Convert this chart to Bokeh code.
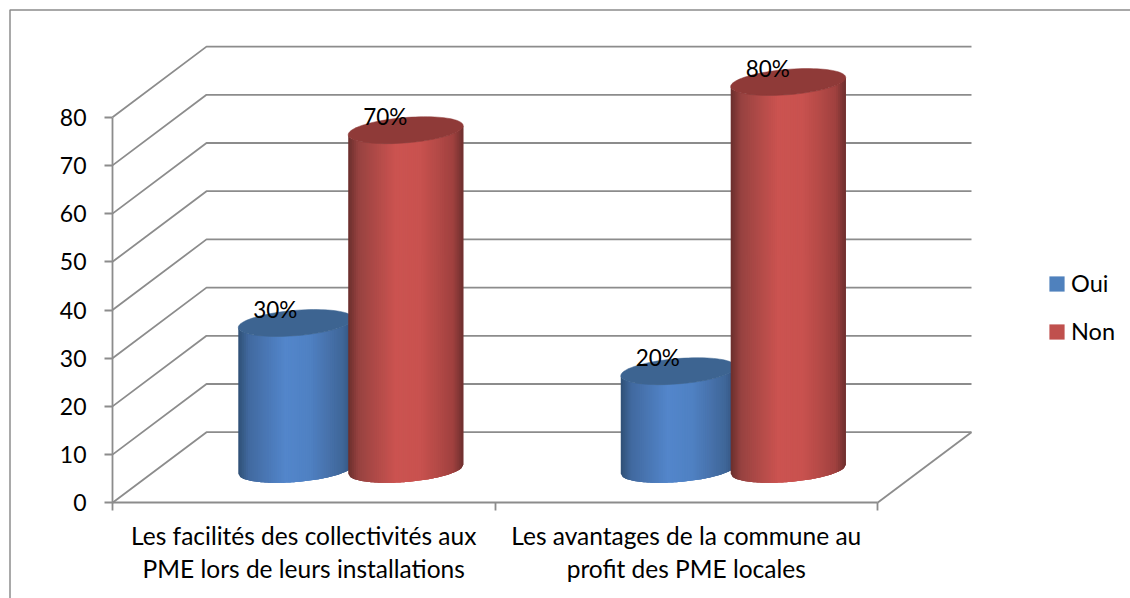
from bokeh.plotting import figure
from bokeh.embed import file_html
from bokeh.resources import INLINE
from bokeh.models import Range1d, LinearAxis, FixedTicker, Legend, LegendItem
from bokeh.core.properties import value
import math

categories = ["Les facilités des collectivités aux\nPME lors de leurs installations",
              "Les avantages de la commune au\nprofit des PME locales"]
series_names = ["Oui", "Non"]
oui = [30, 20]
non = [70, 80]
y_ticks = [0, 10, 20, 30, 40, 50, 60, 70, 80]

W, H = 1130, 598
FONT = "Lato"
GRAY = "#8c8c8c"
PX_X = 382.5      # px per category
PX_Y = 4.82       # px per unit
X0_PX, Y0_PX = 112, 502.3
x_range = Range1d(-X0_PX / PX_X, (W - X0_PX) / PX_X)
y_range = Range1d((Y0_PX - H) / PX_Y, Y0_PX / PX_Y)

p = figure(width=W, height=H, output_backend="svg", toolbar_location=None,
           x_range=x_range, y_range=y_range, x_axis_location=None, y_axis_location=None,
           min_border=0, min_border_left=0, min_border_right=0, min_border_top=0, min_border_bottom=0,
           background_fill_color="white", border_fill_color="white", outline_line_color=None)
p.grid.visible = False

# outer chart border (top and left sides only are visible)
bx = x_range.start + 9.5 / PX_X
by = y_range.end - 9.5 / PX_Y
p.line([bx, bx, x_range.end], [y_range.start, by, by], line_color=GRAY, line_width=1.5)

# 3-D depth of the walls
DX = 94 / PX_X
DV = 70.6 / PX_Y
n_cat = len(categories)
xs, ys = [], []
for t in y_ticks:
    xs.append([0, DX, n_cat + DX])
    ys.append([t, t + DV, t + DV])
xs.append([n_cat, n_cat + DX])
ys.append([0, DV])
p.multi_line(xs, ys, line_color=GRAY, line_width=1.8)

# cylinders
A = 57.5 / PX_X
B = 12.7 / PX_Y
K = 4.5 / PX_Y
OFF = 0.1437
BASE = 6.95
RISE = 0.35
STOPS = [0, .09, .41, .62, .77, .91, 1]
RED = ["#6a2e2c", "#974240", "#cb5350", "#c9524f", "#b54a47", "#a0413f", "#6d2f2e"]
BLUE = ["#2f5075", "#41699f", "#5386cb", "#4f81c3", "#4873ad", "#3f6698", "#30507a"]
RED_CAP, BLUE_CAP = "#8f3a38", "#3d6491"


def mix(cols, u):
    for i in range(len(STOPS) - 1):
        if u <= STOPS[i + 1]:
            f = (u - STOPS[i]) / (STOPS[i + 1] - STOPS[i])
            a, c = cols[i], cols[i + 1]
            rgb = [round(int(a[j:j + 2], 16) * (1 - f) + int(c[j:j + 2], 16) * f) for j in (1, 3, 5)]
            return "#%02x%02x%02x" % tuple(rgb)
    return cols[-1]


def cylinder(cx, val, cols, cap):
    top = val + BASE + RISE
    n = 60
    us = [-1 + 2 * i / n for i in range(n + 1)]
    low = [K * u - B * math.sqrt(max(0, 1 - u * u)) for u in us]
    sx, sy, sc = [], [], []
    for i in range(n):
        # every strip reaches over the next one, so that no seam shows
        j = min(i + 3, n)
        idx = list(range(i, j + 1))
        sx.append([cx + A * us[q] for q in idx] + [cx + A * us[q] for q in reversed(idx)])
        sy.append([BASE + low[q] for q in idx] + [top + low[q] for q in reversed(idx)])
        sc.append(mix(cols, (i + 0.5) / n))
    p.patches(sx, sy, fill_color=sc, line_color=None)
    ts = [2 * math.pi * i / 90 for i in range(90)]
    ex = [cx + A * math.cos(t) for t in ts]
    ey = [top + K * math.cos(t) + B * math.sin(t) for t in ts]
    p.patch(ex, ey, fill_color=cap, line_color=cap, line_width=0.5)


lab_x, lab_y, lab_t = [], [], []
for i in range(n_cat):
    c = i + 0.5 + DX / 2
    cylinder(c - OFF, oui[i], BLUE, BLUE_CAP)
    cylinder(c + OFF, non[i], RED, RED_CAP)
    for cx, v in ((c - OFF, oui[i]), (c + OFF, non[i])):
        lab_x.append(cx - 20.5 / PX_X)
        lab_y.append(v + BASE + 3.1)
        lab_t.append(f"{v}%")

p.text(lab_x, lab_y, text=lab_t, text_font=value(FONT), text_font_size="22.5px",
       text_color="black", text_align="center", text_baseline="middle")

# axes
yax = LinearAxis(fixed_location=0, ticker=FixedTicker(ticks=y_ticks), bounds=(0, 80))
yax.axis_line_color = GRAY
yax.axis_line_width = 1.8
yax.major_tick_line_color = GRAY
yax.major_tick_line_width = 1.8
yax.major_tick_in = 0
yax.major_tick_out = 8
yax.minor_tick_line_color = None
yax.major_label_standoff = 18
yax.major_label_text_font = FONT
yax.major_label_text_font_size = "23px"
yax.major_label_text_color = "black"
p.add_layout(yax, "left")

xax = LinearAxis(fixed_location=0, ticker=FixedTicker(ticks=list(range(n_cat + 1))), bounds=(0, n_cat))
xax.axis_line_color = GRAY
xax.axis_line_width = 1.8
xax.major_tick_line_color = GRAY
xax.major_tick_line_width = 1.8
xax.major_tick_in = 0
xax.major_tick_out = 8
xax.minor_tick_line_color = None
xax.major_label_overrides = {i: "" for i in range(n_cat + 1)}
p.add_layout(xax, "below")

# category labels
p.text([i + 0.5 for i in range(n_cat)], [-(551.5 - 502.3) / PX_Y] * n_cat, text=categories,
       text_font=value(FONT), text_font_size="24.5px", text_color="black",
       text_align="center", text_baseline="middle", text_line_height=1.15)

# legend
nan = float("nan")
r1 = p.quad(left=[nan], right=[nan], top=[nan], bottom=[nan], fill_color="#4f81bd", line_color=None)
r2 = p.quad(left=[nan], right=[nan], top=[nan], bottom=[nan], fill_color="#c0504d", line_color=None)
leg = Legend(items=[LegendItem(label=series_names[0], renderers=[r1]),
                    LegendItem(label=series_names[1], renderers=[r2])],
             location=(1047, H - 345),
             glyph_width=19, glyph_height=19, label_height=19, spacing=20,
             padding=0, margin=0, border_line_color=None, background_fill_alpha=0,
             label_text_font=FONT, label_text_font_size="23.5px", label_text_color="black",
             label_standoff=5)
p.add_layout(leg, "center")

open("out.html", "w").write(file_html(p, INLINE))
